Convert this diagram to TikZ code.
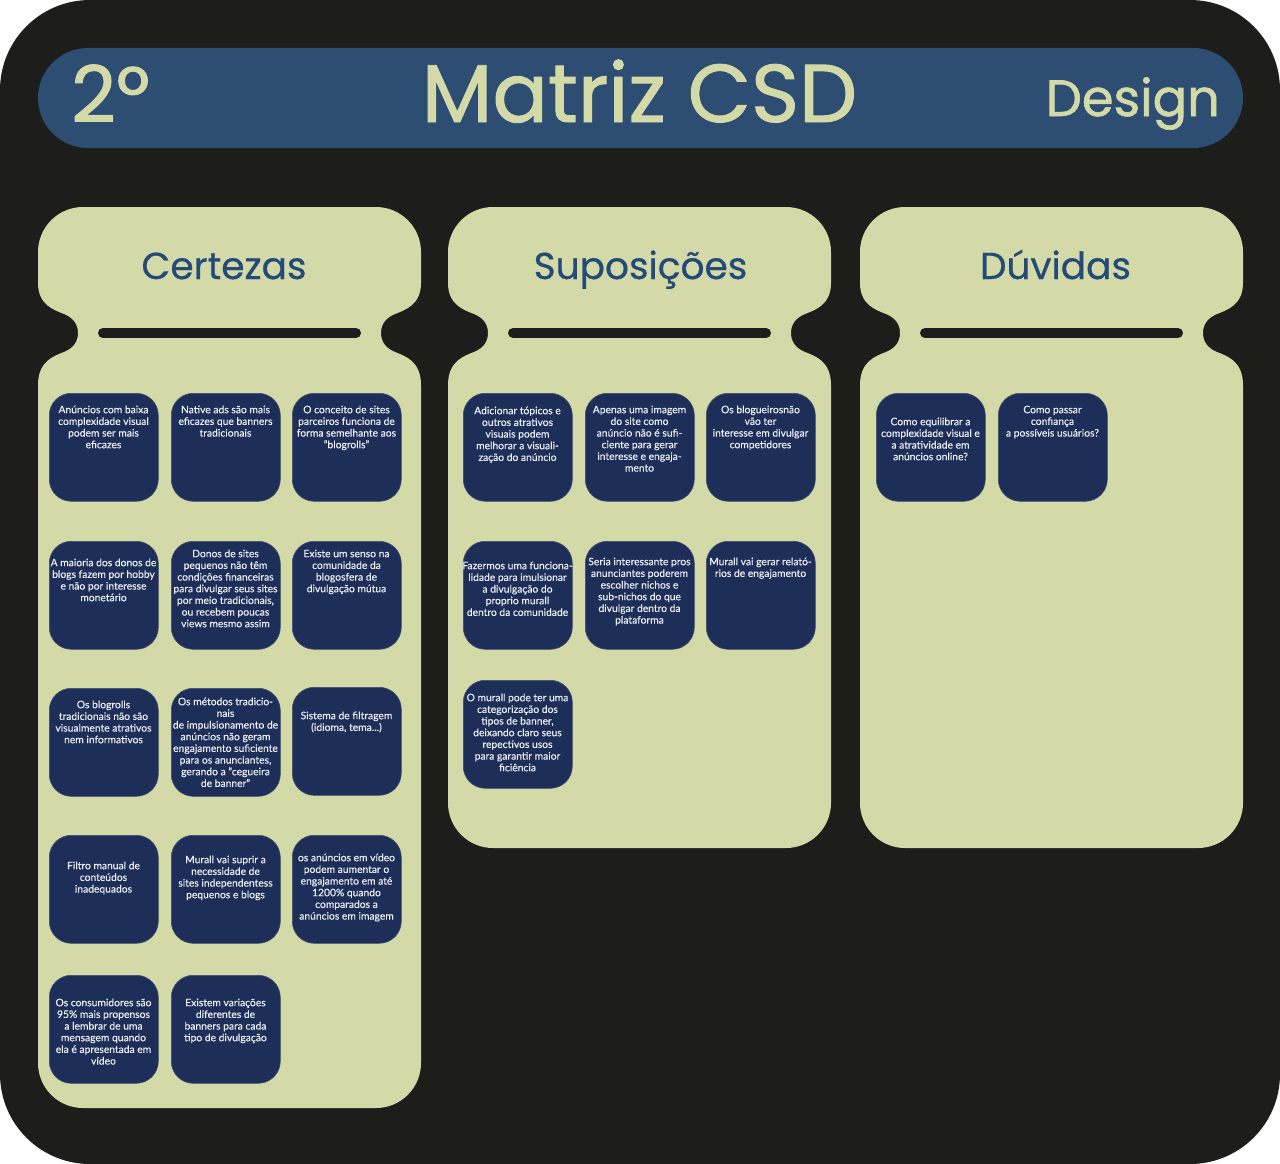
\documentclass[tikz,border=0pt]{standalone}
\usepackage{fontspec}
\setmainfont{Lato}[FakeBold=0.3]
\newfontfamily\headfont{Poppins}[FakeBold=1.2]
\newfontfamily\colfont{Poppins}[FakeBold=0.5]
\usetikzlibrary{calc}

\definecolor{bgdark}{HTML}{1D1D1B}
\definecolor{headblue}{HTML}{2D4D72}
\definecolor{khaki}{HTML}{D4D9A8}
\definecolor{titleblue}{HTML}{244A78}
\definecolor{cardnavy}{HTML}{1D2E58}
\definecolor{cardink}{HTML}{EDEFF4}

\tikzset{
  card/.style={fill=cardnavy, draw=cardnavy!85!white, line width=0.6pt,
    rounded corners=22pt, minimum width=109pt, minimum height=108pt,
    inner sep=0pt, anchor=north west},
  cardtxt/.style={text=cardink, font=\fontsize{10.3}{11.67}\selectfont,
    align=center, inner sep=0pt, anchor=north},
  divider/.style={draw=bgdark, line width=10pt, line cap=round},
  coltitle/.style={text=titleblue, font=\colfont\fontsize{37.5}{40}\selectfont,
    inner sep=0pt, anchor=base},
  headtxt/.style={text=khaki, inner sep=0pt},
}

% column panel: x, y, height, title node name, title, title centre
\newcommand\csdpanel[6]{%
  \begin{scope}[shift={(#1,#2)}]
    \fill[khaki] (0,45) .. controls (0,20.15) and (20.15,0) .. (45,0)
      -- (338,0) .. controls (362.85,0) and (383,20.15) .. (383,45)
      -- (383,76) .. controls (383,98) and (367,103) .. (357,107)
      .. controls (347,111) and (343,118) .. (343,126)
      .. controls (343,134) and (347,141) .. (357,145)
      .. controls (367,149) and (383,154) .. (383,178)
      -- (383,#3-45) .. controls (383,#3-20.15) and (362.85,#3) .. (338,#3)
      -- (45,#3) .. controls (20.15,#3) and (0,#3-20.15) .. (0,#3-45)
      -- (0,178) .. controls (0,154) and (16,149) .. (26,145)
      .. controls (36,141) and (40,134) .. (40,126)
      .. controls (40,118) and (36,111) .. (26,107)
      .. controls (16,103) and (0,98) .. (0,76) -- cycle;
    \coordinate (#4-l) at (65,126);
    \coordinate (#4-r) at (318,126);
    \draw[divider] (#4-l) -- (#4-r);
    \node[coltitle] (#4) at (#6,72) {#5};
  \end{scope}}

% note card: name, x, y (top left), first line height, text
\newcommand\csdcard[5]{%
  \node[card] (#1) at (#2,#3) {};
  \node[cardtxt] (#1-txt) at (#2+54.5,#4-5.5) {\rule{0pt}{8.5pt}#5};
}

\begin{document}
\begin{tikzpicture}[x=1pt,y=-1pt]
  \useasboundingbox (0,0) rectangle (1280,1164);
  \fill[white] (0,0) rectangle (1280,1164);
  \fill[bgdark, rounded corners=90pt] (0,0) rectangle (1280,1164);

  % header bar
  \fill[headblue, rounded corners=50pt] (38,48) rectangle (1243,148);
  \node[headtxt, anchor=base west, font=\headfont\fontsize{78}{80}\selectfont] (rank) at (71,122) {2º};
  \node[headtxt, anchor=base, font=\headfont\fontsize{82}{84}\selectfont] (title) at (639.5,122) {Matriz CSD};
  \node[headtxt, anchor=base east, font=\headfont\fontsize{51}{52}\selectfont] (area) at (1220,116) {Design};

  % columns
  \csdpanel{38}{207}{901}{cert}{Certezas}{186}
  \csdpanel{448}{207}{641}{supo}{Suposições}{192.5}
  \csdpanel{860}{207}{641}{duv}{Dúvidas}{195.5}

  % Certezas
  \csdcard{c1}{49}{393}{410}{Anúncios com baixa\\complexidade visual\\podem ser mais\\eficazes}
  \csdcard{c2}{171}{393}{410}{Native ads são mais\\eficazes que banners\\tradicionais}
  \csdcard{c3}{292}{393}{410}{O conceito de sites\\parceiros funciona de\\forma semelhante aos\\"blogrolls"}
  \csdcard{c4}{49}{541}{563}{A maioria dos donos de\\blogs fazem por hobby\\e não por interesse\\monetário}
  \csdcard{c5}{171}{541}{554}{Donos de sites\\pequenos não têm\\condições financeiras\\para divulgar seus sites\\por meio tradicionais,\\ou recebem poucas\\views mesmo assim}
  \csdcard{c6}{292}{541}{554}{Existe um senso na\\comunidade da\\blogosfera de\\divulgação mútua}
  \csdcard{c7}{49}{688}{705}{Os blogrolls\\tradicionais não são\\visualmente atrativos\\nem informativos}
  \csdcard{c8}{171}{688}{702}{Os métodos tradicio-\\nais\\de impulsionamento de\\anúncios não geram\\engajamento suficiente\\para os anunciantes,\\gerando a "cegueira\\de banner"}
  \csdcard{c9}{292}{687}{716}{Sistema de filtragem\\(idioma, tema...)}
  \csdcard{c10}{49}{835}{866}{Filtro manual de\\conteúdos\\inadequados}
  \csdcard{c11}{171}{835}{860}{Murall vai suprir a\\necessidade de\\sites independentess\\pequenos e blogs}
  \csdcard{c12}{292}{835}{858}{os anúncios em vídeo\\podem aumentar o\\engajamento em até\\1200\% quando\\comparados a\\anúncios em imagem}
  \csdcard{c13}{49}{975}{1003}{Os consumidores são\\95\% mais propensos\\a lembrar de uma\\mensagem quando\\ela é apresentada em\\vídeo}
  \csdcard{c14}{171}{975}{1003}{Existem variações\\diferentes de\\banners para cada\\tipo de divulgação}

  % Suposições
  \csdcard{s1}{463}{393}{411}{Adicionar tópicos e\\outros atrativos\\visuais podem\\melhorar a visuali-\\zação do anúncio}
  \csdcard{s2}{585}{393}{410}{Apenas uma imagem\\do site como\\anúncio não é sufi-\\ciente para gerar\\interesse e engaja-\\mento}
  \csdcard{s3}{706}{393}{410}{Os blogueirosnão\\vão ter\\interesse em divulgar\\competidores}
  \csdcard{s4}{463}{541}{566}{Fazermos uma funciona-\\lidade para imulsionar\\a divulgação do\\proprio murall\\dentro da comunidade}
  \csdcard{s5}{585}{541}{562}{Seria interessante pros\\anunciantes poderem\\escolher nichos e\\sub-nichos do que\\divulgar dentro da\\plataforma}
  \csdcard{s6}{706}{541}{562}{Murall vai gerar relató-\\rios de engajamento}
  \csdcard{s7}{463}{680}{698}{O murall pode ter uma\\categorização dos\\tipos de banner,\\deixando claro seus\\repectivos usos\\para garantir maior\\ficiência}

  % Dúvidas
  \csdcard{d1}{876}{393}{422}{Como equilibrar a\\complexidade visual e\\a atratividade em\\anúncios online?}
  \csdcard{d2}{998}{393}{410}{Como passar\\confiança\\a possíveis usuários?}
\end{tikzpicture}
\end{document}
